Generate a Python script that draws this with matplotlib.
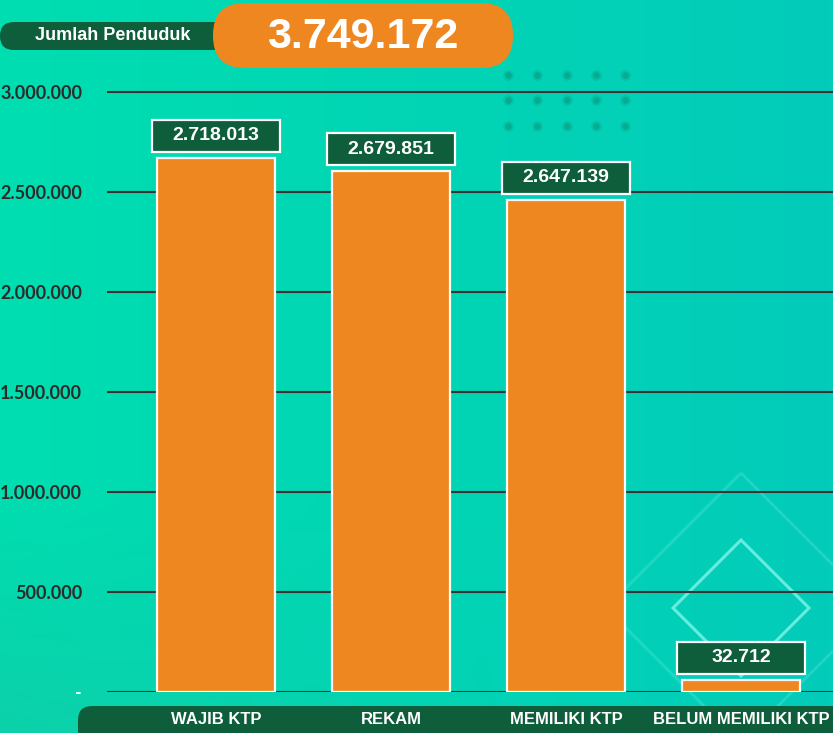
import matplotlib
matplotlib.use("Agg")
import matplotlib.pyplot as plt
import numpy as np
from matplotlib.patches import FancyBboxPatch, Rectangle, Polygon

# Data
categories = ["WAJIB KTP", "REKAM", "MEMILIKI KTP", "BELUM MEMILIKI KTP"]
bar_heights = [2670000, 2605000, 2460000, 60000]   # heights as drawn in the picture
value_labels = ["2.718.013", "2.679.851", "2.647.139", "32.712"]
total_label = "3.749.172"
header_label = "Jumlah Penduduk"
y_ticks = [0, 500000, 1000000, 1500000, 2000000, 2500000, 3000000]
y_tick_labels = ["-", "500.000", "1.000.000", "1.500.000", "2.000.000", "2.500.000", "3.000.000"]

W, H = 833, 733
ORANGE = "#EF8720"
DARK_GREEN = "#0E5E3C"
GRID = "#333333"
LABEL_FONT = ["Liberation Sans", "DejaVu Sans"]

fig = plt.figure(figsize=(W / 100, H / 100), dpi=100)


def py(y):
    # pixel y measured from the top -> axes coordinate measured from the bottom
    return H - y


# Background: gradient, dots and diamonds (pixel coordinates)
bg = fig.add_axes([0, 0, 1, 1], zorder=0)
bg.set_xlim(0, W)
bg.set_ylim(0, H)
bg.axis("off")
xx = np.linspace(0, 1, 200)
yy = np.linspace(0, 1, 200)
gx, gy = np.meshgrid(xx, yy)
left_c = np.array([0, 222, 176]) / 255
right_c = np.array([3, 204, 186]) / 255
top_tint = np.array([20, 200, 165]) / 255
img = left_c * (1 - gx[..., None]) + right_c * gx[..., None]
fade = np.clip(1 - gy[..., None] * 3, 0, 1) * np.clip(1 - gx[..., None] * 1.5, 0, 1) * 0.6
img = img * (1 - fade) + top_tint * fade
bg.imshow(img, extent=[0, W, H, 0], aspect="auto", origin="upper")
bg.set_ylim(0, H)

# soft dark dots, top right
for cx in [508, 537, 567, 596, 625]:
    for cy in [75, 100, 126]:
        bg.scatter(cx, py(cy), s=60, color="#08a88a", alpha=0.35, linewidths=0)
        bg.scatter(cx, py(cy), s=22, color="#0a9c82", alpha=0.6, linewidths=0)

for half, alpha, lw in [(68, 0.85, 2.2), (135, 0.25, 2.0)]:
    cx, cy = 741, 608
    bg.add_patch(Polygon([(cx, py(cy - half)), (cx + half, py(cy)), (cx, py(cy + half)),
                          (cx - half, py(cy))], closed=True, fill=False,
                         edgecolor="#7af3e6", alpha=alpha, linewidth=lw))

# Main chart
ax_left, ax_right, ax_top, ax_bottom = 107, W, 80, 692
ax = fig.add_axes([ax_left / W, (H - ax_bottom) / H, (ax_right - ax_left) / W,
                   (ax_bottom - ax_top) / H], zorder=1)
ax.patch.set_alpha(0)
spacing = 175.0
ax.set_xlim(-(216 - ax_left) / spacing, (W - 216) / spacing)
px_val = 5000.0  # value per pixel
ax.set_ylim(0, (ax_bottom - ax_top) * px_val)

x = np.arange(len(categories))
ax.bar(x, bar_heights, width=118 / spacing, color=ORANGE, edgecolor="white",
       linewidth=1.6, zorder=3)

for xi, h, lab in zip(x, bar_heights, value_labels):
    bw = 128 / spacing
    y0 = h + 6 * px_val
    bh = 32 * px_val
    ax.add_patch(Rectangle((xi - bw / 2, y0), bw, bh, facecolor=DARK_GREEN,
                           edgecolor="white", linewidth=1.6, zorder=4))
    ax.text(xi, y0 + bh / 2, lab, ha="center", va="center", color="white",
            fontsize=14, fontweight="bold", family=LABEL_FONT, zorder=5)

ax.set_yticks(y_ticks)
ax.set_yticklabels(y_tick_labels)
ax.yaxis.grid(True, color=GRID, linewidth=1.5, zorder=1)
ax.set_axisbelow(True)
ax.tick_params(axis="y", length=0, pad=18)
for t in ax.get_yticklabels():
    t.set_fontfamily(["Lato", "DejaVu Sans"])
    t.set_fontweight("bold")
    t.set_fontsize(13)
    t.set_color("#2b2b2b")
ax.get_yticklabels()[0].set_color("white")
ax.set_xticks([])
for s in ax.spines.values():
    s.set_visible(False)

# Overlay: header pills and bottom category band
ov = fig.add_axes([0, 0, 1, 1], zorder=2)
ov.set_xlim(0, W)
ov.set_ylim(0, H)
ov.axis("off")
ov.patch.set_alpha(0)

ov.add_patch(FancyBboxPatch((0, py(50)), 232, 28, boxstyle="round,pad=0,rounding_size=14",
                            facecolor=DARK_GREEN, edgecolor="none"))
ov.text(113, py(36), header_label, ha="center", va="center", color="white",
        fontsize=13, fontweight="bold", family=LABEL_FONT)
ov.add_patch(FancyBboxPatch((213, py(68)), 300, 65, boxstyle="round,pad=0,rounding_size=32",
                            facecolor=ORANGE, edgecolor="none"))
ov.text(363, py(37), total_label, ha="center", va="center", color="white",
        fontsize=31, fontweight="bold", family=LABEL_FONT)

ov.add_patch(FancyBboxPatch((78, py(745)), 800, 39, boxstyle="round,pad=0,rounding_size=14",
                            facecolor=DARK_GREEN, edgecolor="none"))
for xi, cat in zip(x, categories):
    cx = 216 + xi * spacing
    ov.text(cx, py(720), cat, ha="center", va="center", color="white",
            fontsize=12, fontweight="bold", family=LABEL_FONT)

fig.savefig("out.png", dpi=100)
